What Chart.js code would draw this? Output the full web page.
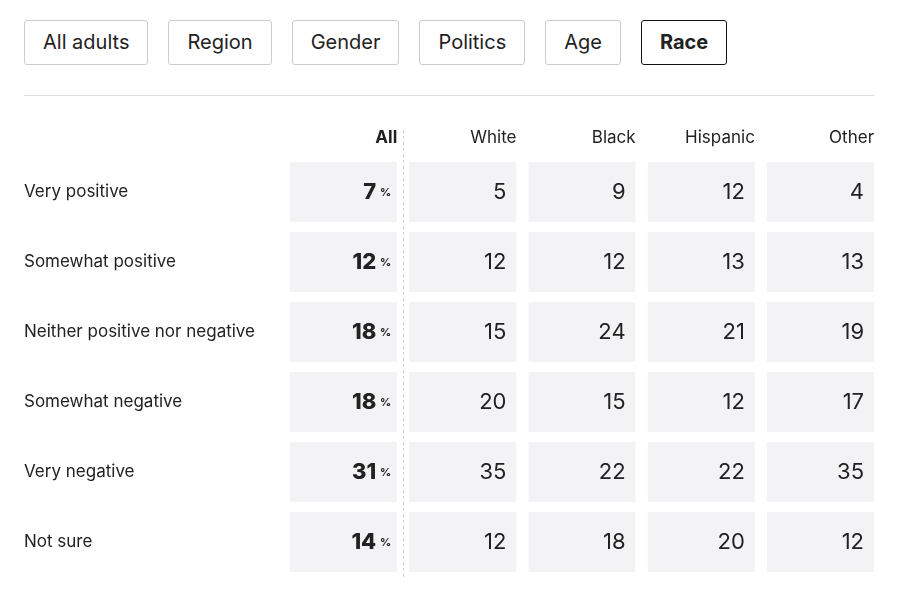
<!DOCTYPE html>
<html><head><meta charset="utf-8">
<script src="https://cdn.jsdelivr.net/npm/chart.js@4"></script>
<style>
body{margin:0;background:#fff;font-family:Inter,"Noto Sans",sans-serif;color:#222;}
.tabs{position:absolute;top:20px;left:24px;display:flex;gap:20px;}
.tab{height:45px;box-sizing:border-box;border:1px solid #ccc;border-radius:3px;padding:0 18px;font-size:20px;line-height:43px;color:#222;}
.tab.on{border-color:#111;font-weight:700;}
.rule{position:absolute;top:95px;left:24px;width:850px;border-top:1px solid #ddd;}
#wrap{position:absolute;top:110px;left:0;width:898px;height:485px;}
</style></head><body>
<div class="tabs"><div class="tab">All adults</div><div class="tab">Region</div><div class="tab">Gender</div><div class="tab">Politics</div><div class="tab">Age</div><div class="tab on">Race</div></div>
<div class="rule"></div>
<div id="wrap"><canvas id="c"></canvas></div>
<script>
const columns = ["All", "White", "Black", "Hispanic", "Other"];
const rows = ["Very positive", "Somewhat positive", "Neither positive nor negative", "Somewhat negative", "Very negative", "Not sure"];
const values = [
  [7, 5, 9, 12, 4],
  [12, 12, 12, 13, 13],
  [18, 15, 24, 21, 19],
  [18, 20, 15, 12, 17],
  [31, 35, 22, 22, 35],
  [14, 12, 18, 20, 12]
];

const textPlugin = {
  id: "tableText",
  afterDatasetsDraw(chart) {
    const ctx = chart.ctx;
    ctx.save();
    ctx.textBaseline = "middle";
    // column headers
    chart.getDatasetMeta(0).data.forEach((bar, ci) => {
      const right = bar.x + bar.width / 2;
      ctx.font = (ci === 0 ? "700 " : "400 ") + "17px Inter";
      ctx.fillStyle = "#222";
      ctx.textAlign = "right";
      ctx.fillText(columns[ci], right, 28);
    });
    // dashed separator
    const b0 = chart.getDatasetMeta(0).data[0], b1 = chart.getDatasetMeta(0).data[1];
    const sx = Math.round(((b0.x + b0.width / 2) + (b1.x - b1.width / 2)) / 2) + 0.5;
    ctx.strokeStyle = "#ccc"; ctx.setLineDash([3, 3]); ctx.lineWidth = 1;
    ctx.beginPath(); ctx.moveTo(sx, 20); ctx.lineTo(sx, chart.chartArea.bottom); ctx.stroke();
    ctx.setLineDash([]);
    rows.forEach((r, ri) => {
      const meta = chart.getDatasetMeta(ri);
      meta.data.forEach((bar, ci) => {
        const cy = (bar.y + bar.base) / 2;
        if (ci === 0) {
          ctx.textAlign = "left";
          ctx.font = "400 17px Inter";
          ctx.fillStyle = "#222";
          ctx.fillText(r, 24, cy);
          const right = bar.x + bar.width / 2 - 6;
          ctx.font = "700 11px Inter";
          ctx.textAlign = "right";
          ctx.fillText("%", right, cy + 1);
          ctx.font = "800 22px Inter";
          ctx.fillText(values[ri][ci], right - 15, cy);
        } else {
          ctx.textAlign = "right";
          ctx.font = "400 22px Inter";
          ctx.fillText(values[ri][ci], bar.x + bar.width / 2 - 10, cy);
        }
      });
    });
    ctx.restore();
  }
};

new Chart(document.getElementById("c"), {
  type: "bar",
  data: {
    labels: columns,
    datasets: rows.map(r => ({
      label: r,
      data: columns.map(() => 1),
      backgroundColor: "#f3f3f5",
      borderColor: "#fff",
      borderWidth: { top: 5, bottom: 5, left: 0, right: 0 },
      borderSkipped: false,
      barPercentage: 0.9,
      categoryPercentage: 1
    }))
  },
  options: {
    responsive: true, maintainAspectRatio: false, animation: false,
    layout: { padding: { left: 284, right: 18, top: 47, bottom: 18 } },
    plugins: { legend: { display: false }, tooltip: { enabled: false } },
    scales: {
      x: { stacked: true, display: false },
      y: { stacked: true, reverse: true, min: 0, max: rows.length, display: false }
    }
  },
  plugins: [textPlugin]
});
</script>
</body></html>
